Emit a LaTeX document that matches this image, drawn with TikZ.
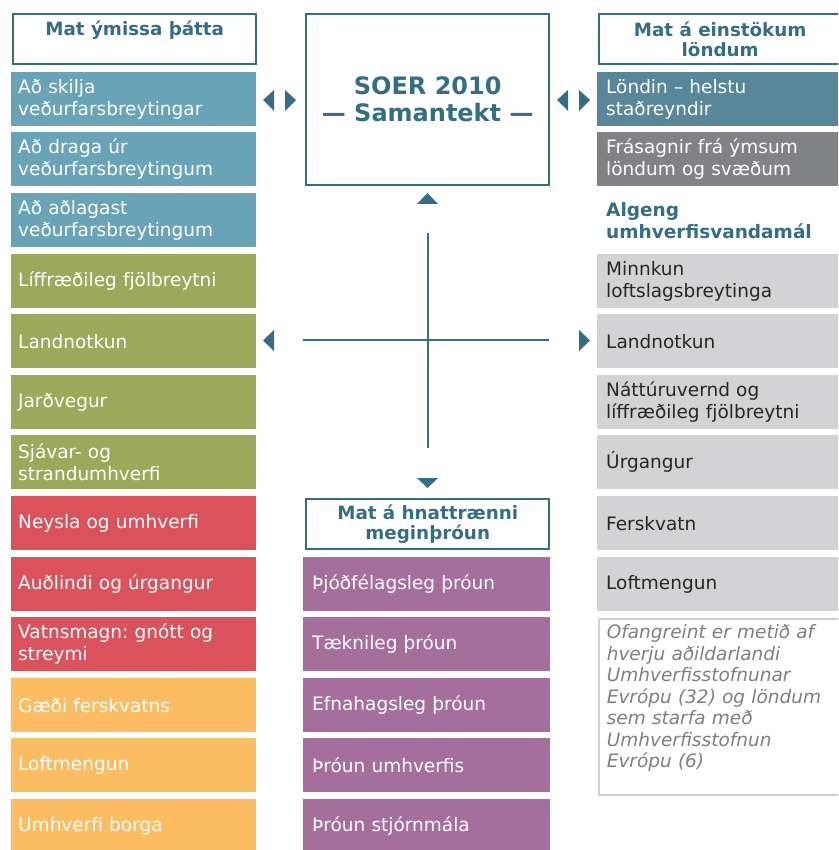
\documentclass[tikz,border=0pt]{standalone}
\usepackage{fontspec}
\setmainfont{DejaVu Sans}
\frenchspacing
\definecolor{teal}{HTML}{346E84}
\definecolor{cblue}{HTML}{68A3B7}
\definecolor{colive}{HTML}{9CA95B}
\definecolor{cred}{HTML}{D9525C}
\definecolor{corange}{HTML}{FCBD62}
\definecolor{cpurple}{HTML}{A56F9D}
\definecolor{cslate}{HTML}{578799}
\definecolor{cgray}{HTML}{818285}
\definecolor{clight}{HTML}{D3D3D5}
\definecolor{cnote}{HTML}{7F7F7F}
\definecolor{cnoteline}{HTML}{D0D0D0}
\begin{document}
\begin{tikzpicture}[x=1pt,y=-1pt,
  txt/.style={font=\fontsize{18.5}{22}\selectfont},
  item/.style={txt, anchor=north west, minimum height=54pt, inner xsep=7pt, inner ysep=0pt,
    align=left, text=white},
  lcol/.style={item, text width=231pt},
  mcol/.style={item, text width=229pt, inner xsep=9pt},
  rcol/.style={item, text width=228pt, inner xsep=9pt},
  head/.style={anchor=north west, draw=teal, line width=2.2pt, fill=white, text=teal,
    font=\fontsize{18.3}{20.5}\selectfont\bfseries, align=center, inner sep=0pt},
  tri/.style={fill=teal},
  link/.style={draw=teal, line width=2pt}
]
\clip (0,0) rectangle (838,850);
\fill[white] (0,0) rectangle (838,850);

% --- left column: assessed themes
\node[head, minimum width=243pt, minimum height=50pt] (hL) at (12.1,13.1) {};
\node[head, draw=none, fill=none, anchor=north] at ([yshift=-7pt]hL.north) {Mat ýmissa þátta};

\node[lcol, fill=cblue]   (l1)  at (11,72)  {Að skilja\\veðurfarsbreytingar};
\node[lcol, fill=cblue]   (l2)  at (11,132) {Að draga úr\\veðurfarsbreytingum};
\node[lcol, fill=cblue]   (l3)  at (11,193) {Að aðlagast\\veðurfarsbreytingum};
\node[lcol, fill=colive]  (l4)  at (11,254) {Líffræðileg fjölbreytni};
\node[lcol, fill=colive]  (l5)  at (11,314) {Landnotkun};
\node[lcol, fill=colive]  (l6)  at (11,375) {Jarðvegur};
\node[lcol, fill=colive]  (l7)  at (11,435) {Sjávar- og\\strandumhverfi};
\node[lcol, fill=cred]    (l8)  at (11,496) {Neysla og umhverfi};
\node[lcol, fill=cred]    (l9)  at (11,557) {Auðlindi og úrgangur};
\node[lcol, fill=cred]    (l10) at (11,617) {Vatnsmagn: gnótt og\\streymi};
\node[lcol, fill=corange] (l11) at (11,678) {Gæði ferskvatns};
\node[lcol, fill=corange] (l12) at (11,738) {Loftmengun};
\node[lcol, fill=corange] (l13) at (11,799) {Umhverfi borga};

% --- centre: synthesis box and global trends
\node[head, minimum width=243pt, minimum height=171pt, font=\fontsize{24}{27}\selectfont\bfseries]
  (soer) at (305.1,13.1) {SOER 2010\\— Samantekt —};
\node[head, minimum width=243pt, minimum height=50pt] (hM) at (305.1,498.1)
  {Mat á hnattrænni\\meginþróun};

\node[mcol, fill=cpurple] (m1) at (303,557) {Þjóðfélagsleg þróun};
\node[mcol, fill=cpurple] (m2) at (303,617) {Tæknileg þróun};
\node[mcol, fill=cpurple] (m3) at (303,678) {Efnahagsleg þróun};
\node[mcol, fill=cpurple] (m4) at (303,738) {Þróun umhverfis};
\node[mcol, fill=cpurple] (m5) at (303,799) {Þróun stjórnmála};

% --- right column: country assessments
\node[head, minimum width=242pt, minimum height=50pt] (hR) at (598.1,13.1) {Mat á einstökum\\löndum};

\node[rcol, fill=cslate] (r1) at (597,72)  {Löndin – helstu\\staðreyndir};
\node[rcol, fill=cgray]  (r2) at (597,132) {Frásagnir frá ýmsum\\löndum og svæðum};
\node[rcol, text=teal, font=\fontsize{18.5}{22}\selectfont\bfseries] (r3) at (597,193)
  {Algeng\\umhverfisvandamál};
\node[rcol, fill=clight, text=black!85] (r4) at (597,254) {Minnkun\\loftslagsbreytinga};
\node[rcol, fill=clight, text=black!85] (r5) at (597,314) {Landnotkun};
\node[rcol, fill=clight, text=black!85] (r6) at (597,375) {Náttúruvernd og\\líffræðileg fjölbreytni};
\node[rcol, fill=clight, text=black!85] (r7) at (597,435) {Úrgangur};
\node[rcol, fill=clight, text=black!85] (r8) at (597,496) {Ferskvatn};
\node[rcol, fill=clight, text=black!85] (r9) at (597,557) {Loftmengun};
\node[rcol, anchor=north west, draw=cnoteline, line width=1.8pt, text=cnote,
  minimum height=174pt, text width=228pt, font=\fontsize{18.5}{21.5}\selectfont\itshape,
  inner ysep=6pt, inner xsep=8pt] (note) at (597.9,617.9)
  {Ofangreint er metið af\\hverju aðildarlandi\\Umhverfisstofnunar\\Evrópu (32) og löndum\\sem starfa með\\Umhverfisstofnun\\Evrópu (6)\\[0pt]\vphantom{E}};

% --- cross of connectors in the centre
\coordinate (cw) at (303,340);
\coordinate (ce) at (549,340);
\coordinate (cn) at (427.5,233);
\coordinate (cs) at (427.5,448);
\draw[link] (cw) -- (ce);
\draw[link] (cn) -- (cs);

% --- arrowheads
% between left column and synthesis box
\fill[tri] (263,100) -- (274,90) -- (274,111) -- cycle;
\fill[tri] (296,100) -- (285,90) -- (285,111) -- cycle;
% between synthesis box and right column
\fill[tri] (557,100) -- (568,90) -- (568,111) -- cycle;
\fill[tri] (590,100) -- (579,90) -- (579,111) -- cycle;
% up towards synthesis box, down towards global trends
\fill[tri] (427.5,193) -- (417,204) -- (438,204) -- cycle;
\fill[tri] (427.5,488) -- (417,478) -- (438,478) -- cycle;
% left and right at the crossing level
\fill[tri] (263,340.5) -- (274,330) -- (274,351) -- cycle;
\fill[tri] (590,340.5) -- (579,330) -- (579,351) -- cycle;
\end{tikzpicture}
\end{document}
